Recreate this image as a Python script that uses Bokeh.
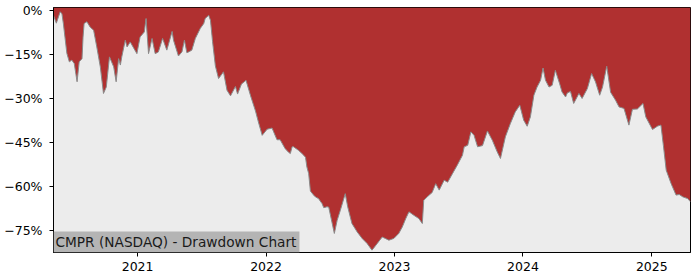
import pandas as pd
from bokeh.plotting import figure
from bokeh.models import Range1d, FixedTicker, DatetimeTickFormatter, Label
from bokeh.embed import file_html
from bokeh.resources import INLINE

title_text = "CMPR (NASDAQ) - Drawdown Chart"

dates = [
    "2020-05-07", "2020-05-15", "2020-05-26", "2020-05-31", "2020-06-04", "2020-06-14",
    "2020-06-21", "2020-06-28", "2020-07-05", "2020-07-13", "2020-07-19", "2020-07-27",
    "2020-07-30", "2020-08-02", "2020-08-10", "2020-08-19", "2020-08-29", "2020-09-07",
    "2020-09-17", "2020-09-26", "2020-10-04", "2020-10-13", "2020-10-25", "2020-11-01",
    "2020-11-08", "2020-11-13", "2020-11-17", "2020-11-27", "2020-12-02", "2020-12-11",
    "2020-12-30", "2021-01-08", "2021-01-20", "2021-01-25", "2021-02-01", "2021-02-11",
    "2021-02-20", "2021-03-01", "2021-03-13", "2021-03-25", "2021-04-09", "2021-04-13",
    "2021-04-27", "2021-05-07", "2021-05-14", "2021-05-21", "2021-05-26", "2021-06-04",
    "2021-06-14", "2021-06-28", "2021-07-08", "2021-07-12", "2021-07-22", "2021-07-27",
    "2021-08-02", "2021-08-10", "2021-08-19", "2021-08-29", "2021-09-02", "2021-09-12",
    "2021-09-22", "2021-10-06", "2021-10-12", "2021-10-23", "2021-11-05", "2021-11-18",
    "2021-12-02", "2021-12-11", "2021-12-21", "2022-01-04", "2022-01-18", "2022-02-01",
    "2022-02-10", "2022-02-24", "2022-03-06", "2022-03-11", "2022-03-16", "2022-03-20",
    "2022-04-03", "2022-04-13", "2022-04-18", "2022-04-23", "2022-04-27", "2022-05-02",
    "2022-05-07", "2022-05-16", "2022-05-21", "2022-05-30", "2022-06-09", "2022-06-14",
    "2022-06-23", "2022-06-28", "2022-07-08", "2022-07-14", "2022-07-22", "2022-07-31",
    "2022-08-14", "2022-08-21", "2022-09-02", "2022-09-17", "2022-10-01", "2022-10-15",
    "2022-10-29", "2022-11-13", "2022-11-27", "2022-12-16", "2022-12-30", "2023-01-13",
    "2023-01-23", "2023-02-02", "2023-02-11", "2023-02-25", "2023-03-11", "2023-03-21",
    "2023-03-25", "2023-04-04", "2023-04-18", "2023-04-28", "2023-05-08", "2023-05-22",
    "2023-06-01", "2023-06-15", "2023-06-29", "2023-07-13", "2023-07-18", "2023-07-28",
    "2023-08-06", "2023-08-15", "2023-08-25", "2023-09-08", "2023-09-22", "2023-10-06",
    "2023-10-20", "2023-10-29", "2023-11-12", "2023-11-26", "2023-12-10", "2023-12-23",
    "2024-01-03", "2024-01-13", "2024-01-22", "2024-02-01", "2024-02-10", "2024-02-20",
    "2024-02-27", "2024-03-05", "2024-03-15", "2024-03-24", "2024-04-02", "2024-04-14",
    "2024-04-21", "2024-05-01", "2024-05-06", "2024-05-15", "2024-05-24", "2024-05-29",
    "2024-06-08", "2024-06-17", "2024-07-02", "2024-07-14", "2024-07-25", "2024-08-06",
    "2024-08-14", "2024-08-26", "2024-09-06", "2024-09-20", "2024-09-30", "2024-10-14",
    "2024-10-28", "2024-11-07", "2024-11-21", "2024-12-07", "2024-12-15", "2025-01-03",
    "2025-01-18", "2025-01-27", "2025-02-03", "2025-02-11", "2025-02-25", "2025-03-11",
    "2025-03-20", "2025-03-30", "2025-04-13", "2025-04-21",
]

drawdown = [
    -1.5, -4.2, -0.3, -1.0, -4.3, -14.5,
    -17.4, -16.8, -18.0, -24.2, -17.4, -16.3,
    -8.9, -4.3, -3.7, -5.5, -6.6, -12.3,
    -19.1, -28.2, -26.0, -15.7, -19.1, -24.2,
    -16.3, -18.5, -15.7, -10.0, -12.3, -10.6,
    -14.6, -8.9, -7.2, -2.6, -14.6, -9.4,
    -14.6, -14.0, -9.4, -13.4, -7.0, -10.0,
    -15.4, -14.0, -10.0, -14.3, -14.0, -13.4,
    -9.4, -6.0, -4.3, -2.6, -1.5, -3.2,
    -10.5, -18.8, -23.1, -21.5, -20.8, -27.1,
    -29.0, -25.8, -28.4, -25.0, -23.7, -29.0,
    -34.2, -38.3, -42.5, -40.4, -40.0, -44.0,
    -44.0, -47.0, -48.3, -48.7, -46.4, -46.4,
    -47.6, -48.7, -49.3, -50.0, -53.3, -55.5,
    -61.5, -62.9, -63.5, -64.1, -65.8, -67.2,
    -66.9, -67.0, -72.6, -76.0, -71.5, -68.1,
    -62.4, -66.9, -72.6, -75.5, -77.7, -79.4,
    -81.7, -79.4, -77.2, -78.3, -77.7, -76.0,
    -73.8, -70.9, -68.6, -69.8, -70.9, -72.6,
    -64.7, -63.5, -62.0, -59.0, -61.2, -57.8,
    -58.5, -55.5, -52.5, -49.3, -46.4, -45.9,
    -41.3, -42.5, -46.4, -46.0, -41.0, -44.2,
    -48.2, -50.4, -43.0, -38.5, -34.5, -32.2,
    -37.3, -39.4, -36.2, -28.8, -26.0, -23.7,
    -19.5, -23.7, -26.0, -25.4, -20.3, -24.8,
    -27.7, -29.4, -28.0, -27.5, -31.6, -30.5,
    -28.2, -29.9, -26.5, -21.4, -24.2, -28.8,
    -26.0, -18.9, -27.8, -30.5, -32.8, -33.3,
    -39.0, -33.6, -33.5, -31.6, -36.2, -40.5,
    -39.3, -39.0, -46.0, -54.4, -59.0, -62.9,
    -62.7, -63.5, -64.1, -65.2,
]

y_ticks = [0, -15, -30, -45, -60, -75]
y_tick_labels = ["0%", "\u221215%", "\u221230%", "\u221245%", "\u221260%", "\u221275%"]
x_tick_years = ["2021-01-01", "2022-01-01", "2023-01-01", "2024-01-01", "2025-01-01"]

dt = pd.to_datetime(dates)
y_top = 1.16
y_bottom = -82.5

p = figure(width=700, height=280, x_axis_type="datetime", output_backend="svg",
           toolbar_location=None, min_border_left=53, min_border_right=10,
           min_border_top=7, min_border_bottom=28)
p.x_range = Range1d(dt[0], dt[-1])
p.y_range = Range1d(y_bottom, y_top)

p.background_fill_color = "#ececec"
p.border_fill_color = "white"
p.outline_line_color = "black"
p.outline_line_width = 1
p.outline_line_alpha = 1
p.grid.visible = False

p.varea(x=dt, y1=[y_top] * len(dt), y2=drawdown, fill_color="#b03030")
p.line(x=dt, y=drawdown, line_color="#8a8a8a", line_width=1)

tick_ms = [pd.Timestamp(d).timestamp() * 1000 for d in x_tick_years]
p.xaxis.ticker = FixedTicker(ticks=tick_ms)
p.xaxis.formatter = DatetimeTickFormatter(years="%Y", months="%Y", days="%Y",
                                          hours="%Y", minutes="%Y", seconds="%Y",
                                          milliseconds="%Y", microseconds="%Y")
p.yaxis.ticker = FixedTicker(ticks=y_ticks)
p.yaxis.major_label_overrides = {t: l for t, l in zip(y_ticks, y_tick_labels)}

for ax in (p.xaxis[0], p.yaxis[0]):
    ax.axis_line_color = "black"
    ax.axis_line_width = 1
    ax.major_tick_line_color = "black"
    ax.major_tick_out = 4
    ax.major_tick_in = 0
    ax.minor_tick_line_color = None
    ax.major_label_text_font = "DejaVu Sans"
    ax.major_label_text_font_size = "12.5px"
    ax.major_label_text_color = "black"
p.yaxis.major_label_standoff = 7
p.xaxis.major_label_standoff = 5

lab = Label(x=dt[0].timestamp() * 1000, y=y_bottom, x_offset=0, y_offset=0,
            text=title_text, text_font="DejaVu Sans", text_font_size="13.7px",
            text_color="#1a1a1a", text_baseline="bottom", text_align="left",
            background_fill_color="#b4b4b4", background_fill_alpha=1,
            padding=(2, 3, 2, 3))
p.add_layout(lab)

open("out.html", "w").write(file_html(p, INLINE))
